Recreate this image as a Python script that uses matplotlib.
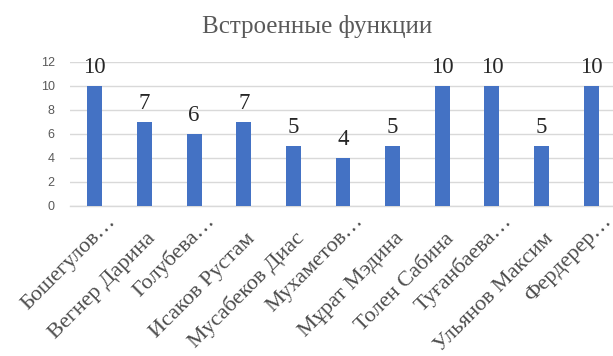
import numpy as np
import matplotlib
matplotlib.use('Agg')
import matplotlib.pyplot as plt
from matplotlib.transforms import ScaledTranslation

# ---- data ----
names = ['Бошегулов…', 'Вегнер Дарина', 'Голубева…', 'Исаков Рустам',
         'Мусабеков Диас', 'Мухаметов…', 'Мұрат Мэдина', 'Толен Сабина',
         'Туғанбаева…', 'Ульянов Максим', 'Фердерер…']
scores = [10, 7, 6, 7, 5, 4, 5, 10, 10, 5, 10]
y_ticks = [0, 2, 4, 6, 8, 10, 12]
title = 'Встроенные функции'

W, H = 613, 356
DPI = 100
fig = plt.figure(figsize=(W / DPI, H / DPI), dpi=DPI)

# plot area in pixels: x 70..616, y 62..206 (the right edge runs a bit past the figure)
left, right, top, bottom = 70, 616, 61.7, 206
ax = fig.add_axes([left / W, 1 - bottom / H, (right - left) / W, (bottom - top) / H])

x = np.arange(len(names))
bars = ax.bar(x, scores, width=0.30, color='#4472C4', zorder=3)

ax.set_xlim(-0.5, len(names) - 0.5)
ax.set_ylim(0, 12)
ax.set_yticks(y_ticks)
ax.yaxis.grid(True, color='#d9d9d9', linewidth=1.0, zorder=0)
for s in ['top', 'right', 'left']:
    ax.spines[s].set_visible(False)
ax.spines['bottom'].set_color('#d9d9d9')
ax.spines['bottom'].set_linewidth(1.0)

ax.tick_params(axis='y', length=0, pad=11, labelsize=9, labelcolor='#595959')
for lbl in ax.get_yticklabels():
    lbl.set_family('Liberation Sans')

# category labels, rotated 45 deg and anchored at the end of their baseline;
# names cut with an ellipsis sit further along their own direction
ax.set_xticks(x)
ax.tick_params(axis='x', length=0, labelbottom=False)
for xi, name in zip(x, names):
    if name.endswith('…'):
        dx, dy = 21, -16
    else:
        dx, dy = 12, -33
    tr = ax.get_xaxis_transform() + ScaledTranslation(dx / DPI, dy / DPI, fig.dpi_scale_trans)
    ax.text(xi, 0, name, transform=tr, rotation=45, rotation_mode='anchor',
            ha='right', va='baseline', family='Liberation Serif', fontsize=16,
            color='#4d4d4d', clip_on=False)

# value labels above each bar
for xi, v in zip(x, scores):
    ax.annotate(str(v), (xi, v), xytext=(0, 9.4), textcoords='offset points',
                ha='center', va='baseline', family='Liberation Serif',
                fontsize=16.5, color='#262626', annotation_clip=False)

fig.text(317 / W, 1 - 27 / H, title, ha='center', va='center',
         family='Liberation Serif', fontsize=18, color='#595959')

fig.savefig('out.png', dpi=DPI)
